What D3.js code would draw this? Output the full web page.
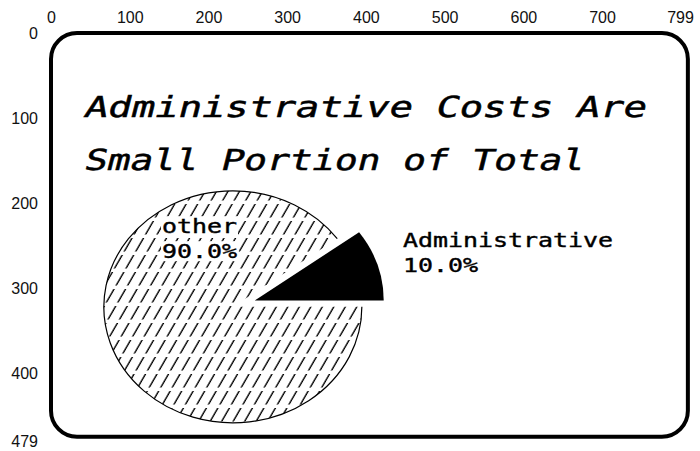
<!DOCTYPE html>
<html>
<head>
<meta charset="utf-8">
<script src="https://cdn.jsdelivr.net/npm/d3@7"></script>
<style>
  html, body { margin: 0; padding: 0; background: #fff; }
  svg { display: block; }
</style>
</head>
<body>
<svg id="chart" width="700" height="451"></svg>
<script>
// Screen-coordinate tick labels along the top and left edges
const xTicks = [0, 100, 200, 300, 400, 500, 600, 700, 799];
const yTicks = [0, 100, 200, 300, 400, 479];

// Title, one entry per line
const titleLines = ["Administrative Costs Are", "Small Portion of Total"];

// Pie data
const categories = ["Administrative", "other"];
const shares = [10.0, 90.0];

const svg = d3.select("#chart");
const defs = svg.append("defs");

// Screen space (800 x 480) mapped onto the page
const x = d3.scaleLinear().domain([0, 799]).range([51, 680]);
const y = d3.scaleLinear().domain([0, 479]).range([33, 441]);

const axisFont = "'Liberation Sans', Arial, sans-serif";
const monoFont = "'DejaVu Sans Mono', monospace";

// ---- axes (labels only) ----
const topAxis = svg.append("g")
  .attr("transform", "translate(0,23)")
  .call(d3.axisTop(x).tickValues(xTicks).tickSize(0).tickPadding(0).tickFormat(d3.format("d")));
const leftAxis = svg.append("g")
  .attr("transform", "translate(38,0)")
  .call(d3.axisLeft(y).tickValues(yTicks).tickSize(0).tickPadding(0).tickFormat(d3.format("d")));
[topAxis, leftAxis].forEach(g => {
  g.select(".domain").remove();
  g.selectAll("text")
    .attr("fill", "#111")
    .style("font-family", axisFont)
    .style("font-size", "16px");
});

// ---- rounded screen frame ----
svg.append("rect")
  .attr("x", x(0))
  .attr("y", y(0))
  .attr("width", x(809) - x(0))
  .attr("height", y(474) - y(0))
  .attr("rx", 26)
  .attr("ry", 26)
  .attr("fill", "none")
  .attr("stroke", "#000")
  .attr("stroke-width", 4);

// ---- title ----
const titleX = x(40.7);
const titleBase = [y(98.6), y(160.8)];
const titleWidth = [562, 500];
titleLines.forEach((line, i) => {
  svg.append("g")
    .attr("transform", `translate(${titleX},${titleBase[i]}) skewX(-14)`)
    .append("text")
    .attr("x", 0)
    .attr("y", 0)
    .attr("textLength", titleWidth[i])
    .attr("lengthAdjust", "spacingAndGlyphs")
    .style("font-family", monoFont)
    .style("font-size", "29px")
    .attr("fill", "#000")
    .attr("stroke", "#000")
    .attr("stroke-width", 0.5)
    .text(line);
});

// ---- pie ----
const cx = x(231), cy = y(321.5);
const rx = 129, ry = 116, k = ry / rx;
const explode = 23;

const pie = d3.pie().sort(null).value(d => d)
  .startAngle(0.3 * Math.PI).endAngle(2.3 * Math.PI);
const slices = pie(shares);
const arc = d3.arc().innerRadius(0).outerRadius(rx);
const rim = d3.arc().innerRadius(rx).outerRadius(rx);

// dashed diagonal hatch for the "other" slice
const hatch = defs.append("pattern")
  .attr("id", "hatch")
  .attr("patternUnits", "userSpaceOnUse")
  .attr("width", 11.5)
  .attr("height", 17)
  .attr("patternTransform", "skewX(-30)");
hatch.append("line")
  .attr("x1", 5).attr("y1", 0)
  .attr("x2", 5).attr("y2", 13.5)
  .attr("stroke", "#000")
  .attr("stroke-width", 1.6);

const adminSlice = slices[0];
const otherSlice = slices[1];

defs.append("clipPath").attr("id", "otherClip")
  .append("path")
  .attr("transform", `translate(${cx},${cy}) scale(1,${k})`)
  .attr("d", arc(otherSlice));

svg.append("rect")
  .attr("x", cx - rx - 2)
  .attr("y", cy - ry - 2)
  .attr("width", 2 * rx + 4)
  .attr("height", 2 * ry + 4)
  .attr("fill", "url(#hatch)")
  .attr("clip-path", "url(#otherClip)");

svg.append("path")
  .attr("transform", `translate(${cx},${cy}) scale(1,${k})`)
  .attr("d", rim(otherSlice))
  .attr("fill", "none")
  .attr("stroke", "#000")
  .attr("stroke-width", 1.2)
  .attr("vector-effect", "non-scaling-stroke");

// exploded Administrative slice
const mid = (adminSlice.startAngle + adminSlice.endAngle) / 2;
const ox = explode * Math.sin(mid), oy = -explode * Math.cos(mid) * k;
svg.append("path")
  .attr("transform", `translate(${cx + ox},${cy + oy}) scale(1,${k})`)
  .attr("d", arc(adminSlice))
  .attr("fill", "#000");

// ---- slice labels ----
const labelAdvance = 15;
const labelPos = [
  { x: x(447), y: y(251) },   // Administrative
  { x: x(141), y: y(235) }    // other
];
const fmt = d3.format(".1f");
slices.forEach((s, i) => {
  const lines = [categories[i], fmt(shares[i]) + "%"];
  const g = svg.append("g");
  lines.forEach((t, j) => {
    const tx = g.append("text")
      .attr("x", labelPos[i].x)
      .attr("y", labelPos[i].y + j * 25)
      .attr("textLength", t.length * labelAdvance)
      .attr("lengthAdjust", "spacingAndGlyphs")
      .style("font-family", monoFont)
      .style("font-size", "19px")
      .attr("fill", "#000")
      .attr("stroke", "#000")
      .attr("stroke-width", 0.4)
      .text(t);
    if (i === 1) {
      // clear the hatch behind the text inside the pie
      const b = tx.node().getBBox();
      g.insert("rect", "text")
        .attr("x", b.x - 1).attr("y", b.y + 1)
        .attr("width", b.width + 2).attr("height", b.height - 2)
        .attr("fill", "#fff");
    }
  });
});
</script>
</body>
</html>
